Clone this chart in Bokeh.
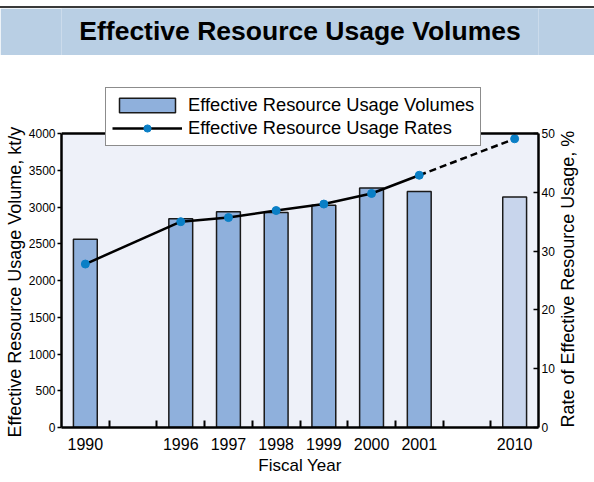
import math
from bokeh.plotting import figure
from bokeh.models import (Range1d, LinearAxis, FixedTicker, Legend, LegendItem,
                          Label, Span, BoxAnnotation, ColumnDataSource, Div, Title)
from bokeh.layouts import column
from bokeh.embed import file_html
from bokeh.resources import INLINE

# ---- data -------------------------------------------------------------
title_text = "Effective Resource Usage Volumes"
axis_slots = ["1990", "", "1996", "1997", "1998", "1999", "2000", "2001", "", "2010"]
years = ["1990", "1996", "1997", "1998", "1999", "2000", "2001", "2010"]
volumes = [2560, 2840, 2935, 2925, 3025, 3260, 3210, 3135]          # kt/y
rates = [27.8, 35.0, 35.7, 36.9, 38.0, 39.8, 42.9, 49.1]            # %
is_target = [False, False, False, False, False, False, False, True]
volume_ticks = [0, 500, 1000, 1500, 2000, 2500, 3000, 3500, 4000]
rate_ticks = [0, 10, 20, 30, 40, 50]
volume_max = 4000
rate_max = 50
x_title = "Fiscal Year"
left_title = "Effective Resource Usage Volume, kt/y"
right_title = "Rate of Effective Resource Usage, %"
legend_labels = ["Effective Resource Usage Volumes", "Effective Resource Usage Rates"]

# ---- styling ----------------------------------------------------------
FONT = "Liberation Sans"
BAR = "#8fb0dc"
BAR_TARGET = "#c8d5ec"
DOT = "#0a7fc6"
PLOT_BG = "#eef1f9"
BAND = "#b9cfe4"
RULE = "#3a3a3a"

W, H = 594, 482
LEFT, RIGHT = 61, 56          # border widths around the plotting frame
RULE_TOP, RULE_H = 6, 2       # dark rule above the heading band
BAND_H = 47                   # heading band height
MAIN_H = H - RULE_TOP - RULE_H - BAND_H
FRAME_TOP = 25                # frame top inside the main figure (room for legend)
BOTTOM = 55
PLOT_H = 294                  # pixel height of the 0..max value area

# ---- heading ----------------------------------------------------------
rule = Div(text="", width=W, height=RULE_H, margin=(RULE_TOP, 0, 0, 0),
           styles={"background-color": RULE})

band = figure(width=W, height=BAND_H, x_range=Range1d(0, 1), y_range=Range1d(0, 1),
              toolbar_location=None, output_backend="svg",
              x_axis_location=None, y_axis_location=None,
              min_border_top=0, min_border_bottom=0,
              min_border_left=LEFT, min_border_right=RIGHT)
band.grid.visible = False
band.background_fill_color = BAND
band.border_fill_color = BAND
band.outline_line_color = None
band.add_layout(Label(x=0.5, y=0.5, y_offset=1, text=title_text, text_align="center",
                      text_baseline="middle", text_font=FONT, text_font_size="26.5px",
                      text_font_style="bold", text_color="black"))

# ---- main chart -------------------------------------------------------
xs = [axis_slots.index(y) + 0.5 for y in years]
src = ColumnDataSource(dict(
    x=xs, year=years, volume=volumes, rate=rates,
    fill=[BAR_TARGET if t else BAR for t in is_target],
))
n_actual = is_target.index(True)
solid = ColumnDataSource(dict(x=xs[:n_actual], rate=rates[:n_actual]))
dashed = ColumnDataSource(dict(x=xs[n_actual - 1:], rate=rates[n_actual - 1:]))

frame_h = MAIN_H - FRAME_TOP - BOTTOM
stretch = frame_h / PLOT_H     # frame reaches above the value area for the legend

p = figure(width=W, height=MAIN_H,
           x_range=Range1d(0, len(axis_slots)), y_range=Range1d(0, volume_max * stretch),
           toolbar_location=None, output_backend="svg",
           min_border_top=FRAME_TOP, min_border_bottom=BOTTOM,
           min_border_left=LEFT, min_border_right=RIGHT)
p.extra_y_ranges = {"rate": Range1d(0, rate_max * stretch)}
p.grid.visible = False
p.background_fill_color = "white"
p.border_fill_color = "white"
p.outline_line_color = None

p.add_layout(BoxAnnotation(bottom=0, top=volume_max, fill_color=PLOT_BG, fill_alpha=1,
                           line_color=None, level="underlay"))
p.add_layout(Span(location=volume_max, dimension="width", line_color="black",
                  line_width=2.5))

bars = p.vbar(x="x", top="volume", bottom=0, width=0.5, source=src,
              fill_color="fill", line_color="#1a1a1a", line_width=1.5)
line_solid = p.line("x", "rate", source=solid, y_range_name="rate",
                    line_color="black", line_width=2.5)
p.line("x", "rate", source=dashed, y_range_name="rate",
       line_color="black", line_width=2.5, line_dash="7 4")
dots = p.scatter("x", "rate", source=src, y_range_name="rate", marker="circle",
                 size=8, fill_color=DOT, line_color=DOT)

# x axis: labels centred in slots, short inward ticks between slots
centers = [i + 0.5 for i, s in enumerate(axis_slots) if s]
xa = p.xaxis[0]
xa.ticker = FixedTicker(ticks=centers, minor_ticks=list(range(1, len(axis_slots))))
xa.major_label_overrides = {i + 0.5: s for i, s in enumerate(axis_slots) if s}
xa.major_tick_in = 0
xa.major_tick_out = 0
xa.minor_tick_in = 7
xa.minor_tick_out = 0
xa.minor_tick_line_color = "black"
xa.minor_tick_line_width = 2
xa.axis_line_width = 2.5
xa.major_label_standoff = 10
xa.major_label_text_font = FONT
xa.major_label_text_font_size = "16px"
xa.major_label_text_color = "black"
xa.axis_label = x_title
xa.axis_label_text_font = FONT
xa.axis_label_text_font_size = "17px"
xa.axis_label_text_font_style = "normal"
xa.axis_label_text_color = "black"
xa.axis_label_standoff = 3


def style_value_axis(ax, ticks, bound, tick_in, tick_out, standoff):
    ax.bounds = (0, bound)
    ax.ticker = FixedTicker(ticks=ticks)
    ax.major_tick_in = tick_in
    ax.major_tick_out = tick_out
    ax.major_tick_line_width = 1.5
    ax.minor_tick_line_color = None
    ax.axis_line_width = 2.5
    ax.major_label_standoff = standoff
    ax.major_label_text_font = FONT
    ax.major_label_text_font_size = "12px"
    ax.major_label_text_color = "black"
    ax.axis_label_text_font = FONT
    ax.axis_label_text_font_size = "18px"
    ax.axis_label_text_font_style = "normal"
    ax.axis_label_text_color = "black"


# left axis: volumes
ya = p.yaxis[0]
style_value_axis(ya, volume_ticks, volume_max, 0, 4, 2)

# left title, starting near the foot of the value axis and reading upward
p.add_layout(Title(text=left_title, align="left", offset=-10, standoff=0,
                   vertical_align="middle", text_font=FONT, text_font_size="18px",
                   text_font_style="normal", text_color="black"), "left")

# right axis: rates (title reads bottom-to-top like the left one)
ra = LinearAxis(y_range_name="rate")
style_value_axis(ra, rate_ticks, rate_max, 5, 0, 3)
ra.axis_label = right_title
ra.axis_label_standoff = 10
ra.axis_label_align = "start"
ra.axis_label_orientation = math.pi / 2
p.add_layout(ra, "right")

legend = Legend(items=[
    LegendItem(label=legend_labels[0], renderers=[bars], index=0),
    LegendItem(label=legend_labels[1], renderers=[line_solid, dots]),
], location=(44, 281))
legend.background_fill_color = "white"
legend.background_fill_alpha = 1
legend.border_line_color = "#1a1a1a"
legend.border_line_width = 1.5
legend.padding = 6
legend.spacing = 1
legend.glyph_width = 70
legend.glyph_height = 18
legend.label_height = 18
legend.label_standoff = 6
legend.label_text_font = FONT
legend.label_text_font_size = "18.3px"
legend.label_text_color = "black"
legend.label_text_baseline = "middle"
p.add_layout(legend, "center")

layout = column(rule, band, p, spacing=0)
open("out.html", "w").write(file_html(layout, INLINE))
